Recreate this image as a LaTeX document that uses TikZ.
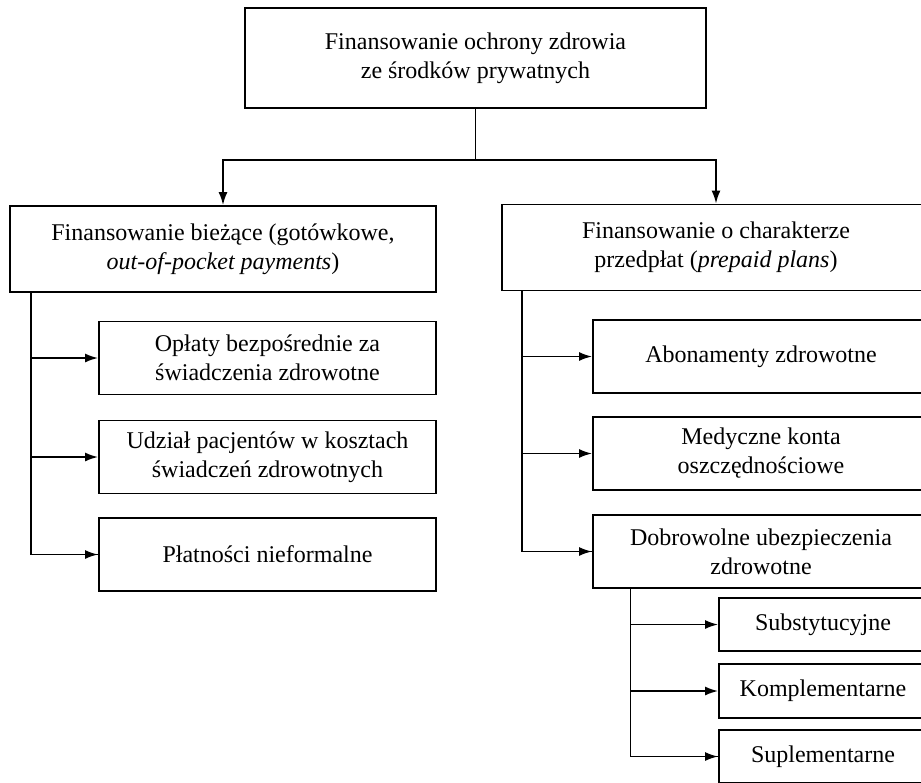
\documentclass[tikz,border=0pt]{standalone}
\usepackage{fontspec}
\setmainfont{Liberation Serif}
\usepackage{tikz}
\usetikzlibrary{arrows.meta}
\usetikzlibrary{positioning}

\begin{document}
\begin{tikzpicture}[
		x=0.5pt, y=-0.5pt,
		every node/.style={font=\fontsize{12}{14.5}\selectfont},
		box/.style={draw, line width=0.9pt, align=center, inner sep=0pt},
		bigbox/.style={box, minimum width=213pt, minimum height=43pt},
		subbox/.style={box, minimum width=168.5pt, minimum height=36.5pt},
		smallbox/.style={box, minimum width=104pt, minimum height=26.5pt},
		link/.style={draw, line width=0.9pt},
		arrowlink/.style={link, -{Latex[length=6.5pt, width=4.5pt]}}
	]

	% picture frame (the right and bottom edges cut the boxes)
	\path[use as bounding box, clip] (0,0) rectangle (921,782);

	% Root
	\node[box, minimum width=230.5pt, minimum height=50pt] (root) at (475.5,58)
	{Finansowanie ochrony zdrowia\\ze środków prywatnych};

	% Two main branches
	\node[bigbox] (cash) at (223,249)
	{Finansowanie bieżące (gotówkowe,\\\emph{out-of-pocket payments})};
	\node[bigbox, minimum width=214pt] (prepaid) at (716,247.5)
	{Finansowanie o charakterze\\przedpłat (\emph{prepaid plans})};

	% Left branch
	\node[subbox] (fees) at (267.5,358) {Opłaty bezpośrednie za\\świadczenia zdrowotne};
	\node[subbox] (copay) at (267.5,457) {Udział pacjentów w kosztach\\świadczeń zdrowotnych};
	\node[subbox] (informal) at (267.5,554.5) {Płatności nieformalne};

	% Right branch
	\node[subbox, minimum width=168pt] (subscr) at (761,356.5) {Abonamenty zdrowotne};
	\node[subbox, minimum width=168pt] (msa) at (761,453.5) {Medyczne konta\\oszczędnościowe};
	\node[subbox, minimum width=168pt] (vhi) at (761,551.5) {Dobrowolne ubezpieczenia\\zdrowotne};

	% Kinds of voluntary insurance
	\node[smallbox] (substit) at (823,624.5) {Substytucyjne};
	\node[smallbox, minimum height=27pt] (complem) at (823,691) {Komplementarne};
	\node[smallbox] (supplem) at (823,756.5) {Suplementarne};

	% Trunk points
	\coordinate (split) at (475.5,160);
	\coordinate (ltrunk) at (31,292);
	\coordinate (rtrunk) at (522,290);
	\coordinate (strunk) at (630.5,588);

	% Arrows
	\draw[link] (root.south) -- (split);
	\draw[arrowlink] (split) -| (cash.north);
	\draw[arrowlink] (split) -| (prepaid.north);

	\draw[link] (ltrunk) |- (informal.west);
	\draw[arrowlink] (ltrunk |- fees.west) -- (fees.west);
	\draw[arrowlink] (ltrunk |- copay.west) -- (copay.west);
	\draw[arrowlink] (ltrunk |- informal.west) -- (informal.west);

	\draw[link] (rtrunk) |- (vhi.west);
	\draw[arrowlink] (rtrunk |- subscr.west) -- (subscr.west);
	\draw[arrowlink] (rtrunk |- msa.west) -- (msa.west);
	\draw[arrowlink] (rtrunk |- vhi.west) -- (vhi.west);

	\draw[link] (strunk) |- (supplem.west);
	\draw[arrowlink] (strunk |- substit.west) -- (substit.west);
	\draw[arrowlink] (strunk |- complem.west) -- (complem.west);
	\draw[arrowlink] (strunk |- supplem.west) -- (supplem.west);

\end{tikzpicture}
\end{document}
